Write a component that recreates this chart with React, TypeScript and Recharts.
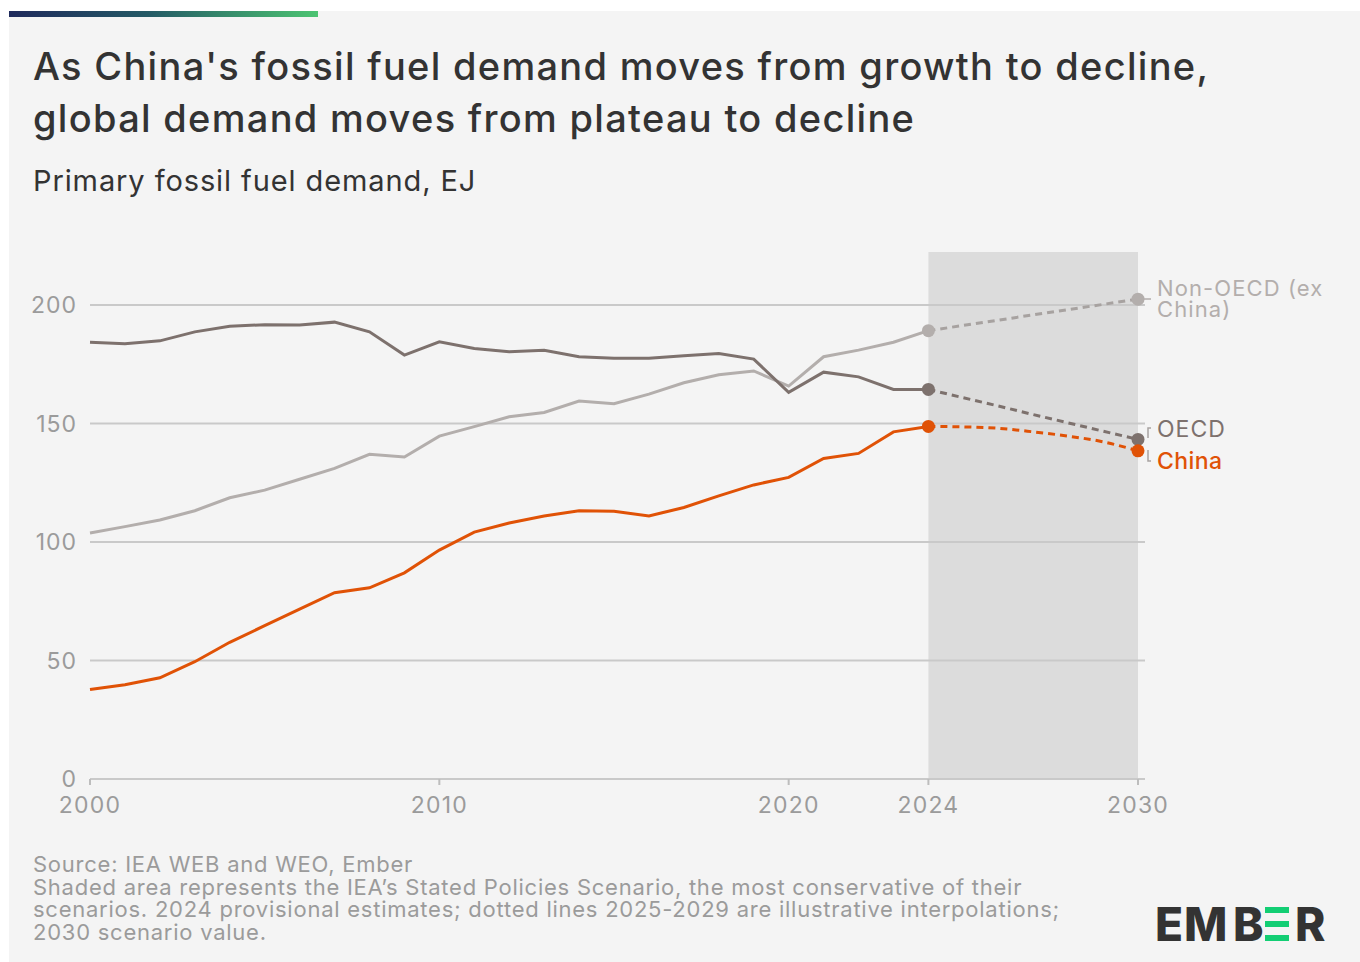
import { LineChart, Line, XAxis, YAxis, ReferenceArea, ReferenceLine } from 'recharts'

// historical series 2000-2024, EJ
const histYears = [2000, 2001, 2002, 2003, 2004, 2005, 2006, 2007, 2008, 2009, 2010, 2011, 2012, 2013, 2014, 2015, 2016, 2017, 2018, 2019, 2020, 2021, 2022, 2023, 2024]
const oecd = [184.3, 183.7, 184.9, 188.7, 191.1, 191.7, 191.6, 192.8, 188.7, 178.9, 184.5, 181.7, 180.3, 180.9, 178.2, 177.6, 177.6, 178.6, 179.6, 177.2, 163.2, 171.7, 169.7, 164.4, 164.4]
const nonOecd = [103.8, 106.5, 109.3, 113.2, 118.7, 121.9, 126.5, 131.1, 137.0, 135.9, 144.7, 148.7, 152.9, 154.7, 159.5, 158.4, 162.4, 167.2, 170.6, 172.2, 165.8, 178.2, 181.0, 184.3, 189.2]
const china = [37.8, 39.8, 42.7, 49.5, 57.7, 64.7, 71.7, 78.6, 80.7, 87.0, 96.6, 104.2, 108.0, 111.0, 113.2, 113.0, 111.0, 114.6, 119.5, 124.1, 127.3, 135.3, 137.4, 146.5, 148.8]

// scenario (STEPS) 2024-2030, dotted interpolation
const projYears = [2024, 2025, 2026, 2027, 2028, 2029, 2030]
const oecdProj = [164.4, 160.9, 157.4, 153.8, 150.3, 146.8, 143.3]
const nonOecdProj = [189.2, 191.4, 193.6, 195.9, 198.1, 200.3, 202.5]
const chinaProj = [148.8, 148.6, 148.0, 146.5, 144.7, 142.3, 138.5]

const xTicks = [2000, 2010, 2020, 2024, 2030]
const yTicks = [0, 50, 100, 150, 200]
const gridValues = [50, 100, 150, 200]

const footnotes = [
  'Source: IEA WEB and WEO, Ember',
  'Shaded area represents the IEA\u2019s Stated Policies Scenario, the most conservative of their',
  'scenarios. 2024 provisional estimates; dotted lines 2025-2029 are illustrative interpolations;',
  '2030 scenario value.',
]

const C_OECD = '#7d716d'
const C_NON = '#b3aeac'
const C_CHINA = '#e05206'
const FONT = 'Inter, "Noto Sans", sans-serif'

const allYears = Array.from(new Set([...histYears, ...projYears])).sort((a, b) => a - b)
const data = allYears.map((year) => {
  const h = histYears.indexOf(year)
  const p = projYears.indexOf(year)
  return {
    year,
    oecd: h >= 0 ? oecd[h] : null,
    nonOecd: h >= 0 ? nonOecd[h] : null,
    china: h >= 0 ? china[h] : null,
    oecdProj: p >= 0 ? oecdProj[p] : null,
    nonOecdProj: p >= 0 ? nonOecdProj[p] : null,
    chinaProj: p >= 0 ? chinaProj[p] : null,
  }
})

function endDot(color: string) {
  return (props: any) => {
    const y = props.payload?.year
    if (y === 2024 || y === 2030) {
      return <circle key={`dot-${props.index}`} cx={props.cx} cy={props.cy} r={6.5} fill={color} />
    }
    return <g key={`dot-${props.index}`} />
  }
}

function YTick({ y, payload }: any) {
  return (
    <text x={77} y={y + 8} textAnchor="end" fontSize={23} letterSpacing={1} fill="#9b9b9b" fontFamily={FONT}>
      {payload.value}
    </text>
  )
}

function XTick({ x, payload }: any) {
  return (
    <text x={x} y={813} textAnchor="middle" fontSize={23} letterSpacing={1.2} fill="#9b9b9b" fontFamily={FONT}>
      {payload.value}
    </text>
  )
}

function Logo() {
  const t = { fontSize: 46, fontWeight: 800, fill: '#333333', fontFamily: FONT }
  return (
    <svg width={1360} height={962} style={{ position: 'absolute', left: 0, top: 0, pointerEvents: 'none' }}>
      <text x={1155} y={941} {...t}>E</text>
      <text x={1184} y={941} {...t}>M</text>
      <text x={1233} y={941} {...t}>B</text>
      <rect x={1265} y={907} width={24} height={6} fill="#13ce74" />
      <rect x={1265} y={921} width={24} height={6} fill="#13ce74" />
      <rect x={1265} y={935} width={24} height={6} fill="#13ce74" />
      <text x={1295} y={941} {...t}>R</text>
      {/* label connectors */}
      <path d="M1144 299 H1151" stroke="#b3aeac" strokeWidth={1.5} fill="none" />
      <path d="M1151 428 H1148 V438" stroke="#a8a3a1" strokeWidth={1.5} fill="none" />
      <path d="M1148 450 V461 H1151" stroke="#a8a3a1" strokeWidth={1.5} fill="none" />
    </svg>
  )
}

export default function App() {
  return (
    <div style={{ position: 'absolute', left: 0, top: 0, width: 1360, height: 962, fontFamily: FONT }}>
      <div style={{ position: 'absolute', left: 9, top: 11, width: 1351, height: 951, background: '#f4f4f4' }} />
      <div
        style={{
          position: 'absolute',
          left: 9,
          top: 11,
          width: 309,
          height: 6,
          background: 'linear-gradient(90deg, #1f2a5c 0%, #245a66 45%, #4cc472 100%)',
        }}
      />
      <div
        style={{
          position: 'absolute',
          left: 33,
          top: 40,
          fontSize: 38,
          lineHeight: '52px',
          fontWeight: 500,
          color: '#333333',
          letterSpacing: 1.3,
          whiteSpace: 'nowrap',
        }}
      >
        As China's fossil fuel demand moves from growth to decline,
        <br />
        global demand moves from plateau to decline
      </div>
      <div
        style={{
          position: 'absolute',
          left: 33,
          top: 163,
          fontSize: 29,
          lineHeight: '36px',
          letterSpacing: 0.9,
          color: '#333333',
          whiteSpace: 'nowrap',
        }}
      >
        Primary fossil fuel demand, EJ
      </div>

      <div style={{ position: 'absolute', left: 0, top: 0 }}>
        <LineChart width={1360} height={962} data={data} margin={{ top: 252, right: 222, bottom: 143, left: 30 }}>
          <ReferenceArea x1={2024} x2={2030} y1={0} y2={222.4} fill="#dcdcdc" fillOpacity={1} stroke="none" />
          {gridValues.map((v) => (
            <ReferenceLine
              key={v}
              segment={[{ x: 2000, y: v }, { x: 2030.2, y: v }]}
              ifOverflow="visible"
              stroke="#c9c9c9"
              strokeWidth={2}
            />
          ))}
          <ReferenceLine
            segment={[{ x: 2000, y: 0 }, { x: 2030.2, y: 0 }]}
            ifOverflow="visible"
            stroke="#c9c9c9"
            strokeWidth={2}
          />
          <XAxis
            dataKey="year"
            type="number"
            domain={[2000, 2030]}
            ticks={xTicks}
            height={40}
            axisLine={false}
            tickLine={{ stroke: '#bdbdbd', strokeWidth: 2 }}
            tickSize={6}
            tick={<XTick />}
            interval={0}
          />
          <YAxis
            type="number"
            domain={[0, 222.4]}
            ticks={yTicks}
            width={60}
            axisLine={false}
            tickLine={false}
            tick={<YTick />}
            interval={0}
          />
          <Line dataKey="nonOecd" stroke={C_NON} strokeWidth={3} dot={false} isAnimationActive={false} />
          <Line dataKey="oecd" stroke={C_OECD} strokeWidth={3} dot={false} isAnimationActive={false} />
          <Line dataKey="china" stroke={C_CHINA} strokeWidth={3} dot={false} isAnimationActive={false} />
          <Line
            dataKey="nonOecdProj"
            stroke="#a7a2a0"
            strokeWidth={3}
            strokeDasharray="7 5"
            dot={endDot(C_NON)}
            isAnimationActive={false}
          />
          <Line
            dataKey="oecdProj"
            stroke={C_OECD}
            strokeWidth={3}
            strokeDasharray="7 5"
            dot={endDot(C_OECD)}
            isAnimationActive={false}
          />
          <Line
            type="monotone"
            dataKey="chinaProj"
            stroke={C_CHINA}
            strokeWidth={3}
            strokeDasharray="7 5"
            dot={endDot(C_CHINA)}
            isAnimationActive={false}
          />
        </LineChart>
      </div>

      <div
        style={{
          position: 'absolute',
          left: 1157,
          top: 278,
          fontSize: 22,
          lineHeight: '21px',
          letterSpacing: 1.1,
          color: C_NON,
          whiteSpace: 'nowrap',
        }}
      >
        Non-OECD (ex
        <br />
        China)
      </div>
      <div style={{ position: 'absolute', left: 1157, top: 416, fontSize: 23, lineHeight: '26px', letterSpacing: 1, color: C_OECD }}>
        OECD
      </div>
      <div
        style={{
          position: 'absolute',
          left: 1157,
          top: 448,
          fontSize: 23,
          lineHeight: '26px',
          letterSpacing: 0.4,
          color: C_CHINA,
          fontWeight: 500,
        }}
      >
        China
      </div>

      <div
        style={{
          position: 'absolute',
          left: 33,
          top: 853,
          fontSize: 22,
          lineHeight: '22.5px',
          letterSpacing: 0.75,
          color: '#9b9b9b',
          whiteSpace: 'nowrap',
        }}
      >
        {footnotes.map((f) => (
          <div key={f}>{f}</div>
        ))}
      </div>

      <Logo />
    </div>
  )
}
